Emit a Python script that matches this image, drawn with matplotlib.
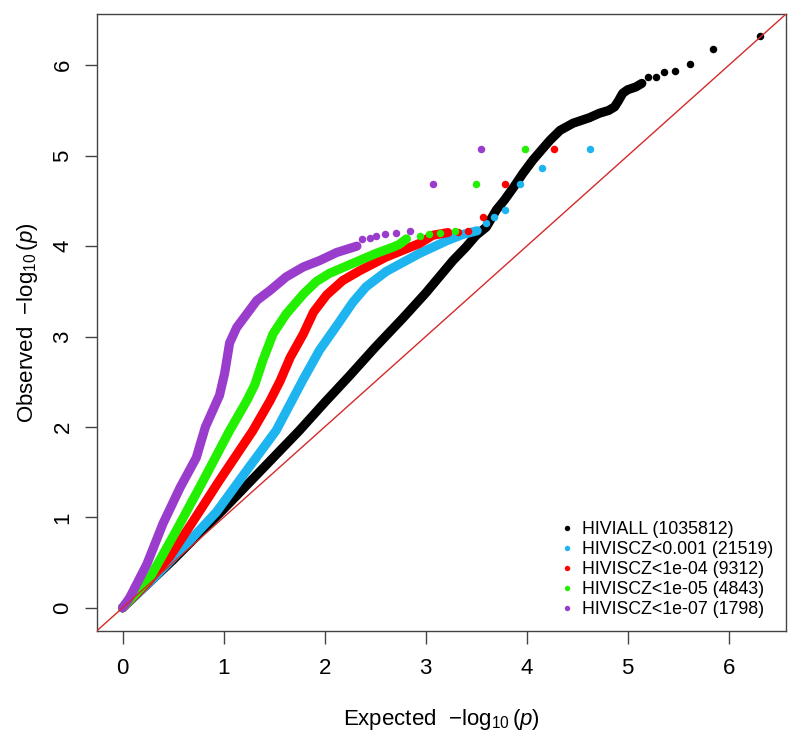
import matplotlib
matplotlib.use("Agg")
import matplotlib.pyplot as plt
from matplotlib.lines import Line2D

plt.rcParams['font.family'] = ['Liberation Sans', 'DejaVu Sans']
plt.rcParams['mathtext.fontset'] = 'custom'
plt.rcParams['mathtext.rm'] = 'Liberation Sans'
plt.rcParams['mathtext.it'] = 'Liberation Sans:italic'

# values (expected vs observed -log10 p)
# dense part of each curve, then the sparse points at its top end
all_x = [0, 0.5, 1.0, 1.5, 1.75, 2.0, 2.25, 2.5, 2.78, 3.0, 3.27, 3.4, 3.5, 3.6, 3.7,
         3.78, 3.87, 3.96, 4.06, 4.16, 4.23, 4.33, 4.46, 4.62, 4.72, 4.81, 4.87,
         4.91, 4.95, 5.0, 5.08, 5.14]
all_y = [0, 0.53, 1.09, 1.67, 1.96, 2.27, 2.57, 2.88, 3.21, 3.48, 3.84, 3.99, 4.12, 4.21, 4.40,
         4.51, 4.65, 4.80, 4.95, 5.08, 5.17, 5.28, 5.36, 5.42, 5.47, 5.50, 5.54,
         5.61, 5.69, 5.73, 5.76, 5.80]
all_tail_x = [5.20, 5.28, 5.36, 5.47, 5.62, 5.84, 6.31]
all_tail_y = [5.87, 5.87, 5.93, 5.94, 6.01, 6.18, 6.32]

scz3_x = [0, 0.3, 0.63, 0.93, 1.23, 1.52, 1.79, 1.95, 2.12, 2.28, 2.41, 2.61, 2.94,
          3.21, 3.37, 3.51]
scz3_y = [0, 0.32, 0.70, 1.06, 1.52, 1.96, 2.53, 2.85, 3.12, 3.38, 3.55, 3.72, 3.92,
          4.06, 4.13, 4.17]
scz3_tail_x = [3.60, 3.68, 3.79, 3.93, 4.15, 4.63]
scz3_tail_y = [4.26, 4.32, 4.40, 4.69, 4.86, 5.07]

scz4_x = [0, 0.24, 0.47, 0.70, 0.96, 1.29, 1.46, 1.56, 1.66, 1.79, 1.89, 2.02, 2.18,
          2.35, 2.61, 2.94, 3.07, 3.22]
scz4_y = [0, 0.27, 0.57, 0.96, 1.41, 1.96, 2.29, 2.51, 2.77, 3.03, 3.27, 3.46, 3.62,
          3.73, 3.88, 4.03, 4.12, 4.15]
scz4_tail_x = [3.32, 3.42, 3.57, 3.79, 4.27]
scz4_tail_y = [4.16, 4.17, 4.32, 4.69, 5.07]

scz5_x = [0, 0.27, 0.53, 0.80, 1.06, 1.23, 1.31, 1.39, 1.49, 1.62, 1.79, 1.92, 2.05,
          2.28, 2.51, 2.68, 2.74, 2.81]
scz5_y = [0, 0.33, 0.85, 1.41, 1.96, 2.29, 2.47, 2.74, 3.03, 3.25, 3.47, 3.61, 3.70,
          3.81, 3.92, 3.99, 4.02, 4.08]
scz5_tail_x = [2.94, 3.03, 3.14, 3.29, 3.50, 3.98]
scz5_tail_y = [4.11, 4.13, 4.15, 4.17, 4.69, 5.07]

scz7_x = [0, 0.07, 0.24, 0.40, 0.57, 0.73, 0.82, 0.96, 1.01, 1.06, 1.13, 1.23, 1.33,
          1.46, 1.62, 1.79, 1.95, 2.12, 2.32]
scz7_y = [0, 0.11, 0.48, 0.93, 1.33, 1.66, 2.0, 2.35, 2.59, 2.93, 3.10, 3.25, 3.40,
          3.51, 3.66, 3.77, 3.84, 3.93, 4.00]
scz7_tail_x = [2.37, 2.45, 2.51, 2.60, 2.71, 2.85, 3.07, 3.55]
scz7_tail_y = [4.08, 4.09, 4.11, 4.13, 4.15, 4.17, 4.69, 5.07]

labels = ["HIVIALL (1035812)", "HIVISCZ<0.001 (21519)", "HIVISCZ<1e-04 (9312)",
          "HIVISCZ<1e-05 (4843)", "HIVISCZ<1e-07 (1798)"]
colors = ["black", "#1EB4F0", "#FF0000", "#22F000", "#9A3CCC"]

series = [(all_x, all_y, all_tail_x, all_tail_y),
          (scz3_x, scz3_y, scz3_tail_x, scz3_tail_y),
          (scz4_x, scz4_y, scz4_tail_x, scz4_tail_y),
          (scz5_x, scz5_y, scz5_tail_x, scz5_tail_y),
          (scz7_x, scz7_y, scz7_tail_x, scz7_tail_y)]

fig = plt.figure(figsize=(8, 7.34), dpi=100)
ax = fig.add_axes([0.12125, 0.1408, 0.8613, 0.8401])

lim = (-0.2526, 6.567)
ax.set_xlim(lim)
ax.set_ylim(lim)

for (x, y, tx, ty), c in zip(series, colors):
    ax.plot(x, y, '-', color=c, lw=6.6, solid_capstyle='round',
            solid_joinstyle='round', zorder=2)
    ax.plot(tx, ty, 'o', color=c, ms=5.4, mec='none', zorder=2)

ax.axline((0, 0), slope=1, color="#D42A2A", lw=1.0, zorder=3)

ax.set_xticks(range(0, 7))
ax.set_yticks(range(0, 7))
ax.tick_params(axis='both', labelsize=16, length=9, width=1, color='#444444',
               direction='out')
ax.tick_params(axis='x', pad=10.5)
ax.tick_params(axis='y', pad=8, labelrotation=90)
for lab in ax.get_yticklabels():
    lab.set_verticalalignment('center')

for s in ax.spines.values():
    s.set_color('#444444')
    s.set_linewidth(1.0)

ax.set_xlabel(r'Expected  $-\log_{10}(\mathit{p})$', fontsize=16, labelpad=20)
ax.set_ylabel(r'Observed  $-\log_{10}(\mathit{p})$', fontsize=16, labelpad=9)

handles = [Line2D([], [], ls='none', marker='o', ms=3.9, mec='none', color=c)
           for c in colors]
ax.legend(handles, labels, loc='lower right', frameon=False, fontsize=12.8,
          handlelength=0.8, handletextpad=0.45, labelspacing=0.17,
          borderpad=0.3, borderaxespad=0.4)

fig.savefig("out.png", dpi=100)
